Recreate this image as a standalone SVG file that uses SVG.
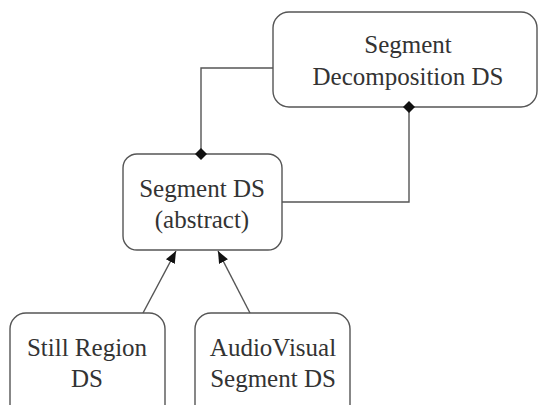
<svg xmlns="http://www.w3.org/2000/svg" width="539" height="405" viewBox="0 0 539 405">
  <defs>
    <style>
      .box { fill: #fff; stroke: #555; stroke-width: 1.4; }
      .lbl { font-family: "Liberation Serif", "DejaVu Serif", "Times New Roman", serif; font-size: 25px; fill: #333; text-anchor: middle; }
      .wire { fill: none; stroke: #555; stroke-width: 1.4; }
    </style>
    <marker id="dia" viewBox="0 0 12 12" refX="6" refY="6" markerWidth="12" markerHeight="12" markerUnits="userSpaceOnUse" orient="auto">
      <path d="M0,6 L6,0 L12,6 L6,12 Z" fill="#111"/>
    </marker>
    <marker id="arr" viewBox="0 0 12 12" refX="12" refY="6" markerWidth="12" markerHeight="12" markerUnits="userSpaceOnUse" orient="auto">
      <path d="M0,1 L12,6 L0,11 Z" fill="#111"/>
    </marker>
  </defs>

  <g id="segment-decomposition">
    <rect class="box" x="273" y="12" width="264" height="95" rx="16"/>
    <text class="lbl" x="408" y="53">Segment</text>
    <text class="lbl" x="408" y="85">Decomposition DS</text>
  </g>

  <g id="segment">
    <rect class="box" x="123" y="154" width="159" height="96" rx="14"/>
    <text class="lbl" x="202" y="197">Segment DS</text>
    <text class="lbl" x="202" y="228">(abstract)</text>
  </g>

  <g id="still-region">
    <rect class="box" x="10" y="313" width="155" height="110" rx="16"/>
    <text class="lbl" x="87" y="356">Still Region</text>
    <text class="lbl" x="87" y="387">DS</text>
  </g>

  <g id="audiovisual-segment">
    <rect class="box" x="195" y="313" width="155" height="110" rx="16"/>
    <text class="lbl" x="273" y="356">AudioVisual</text>
    <text class="lbl" x="273" y="387">Segment DS</text>
  </g>

  <g id="connectors">
    <path class="wire" d="M273,68 H201 V154" marker-end="url(#dia)"/>
    <path class="wire" d="M282,202 H409 V107" marker-end="url(#dia)"/>
    <line class="wire" x1="143" y1="313" x2="176" y2="251" marker-end="url(#arr)"/>
    <line class="wire" x1="250" y1="313" x2="218" y2="251" marker-end="url(#arr)"/>
  </g>
</svg>
